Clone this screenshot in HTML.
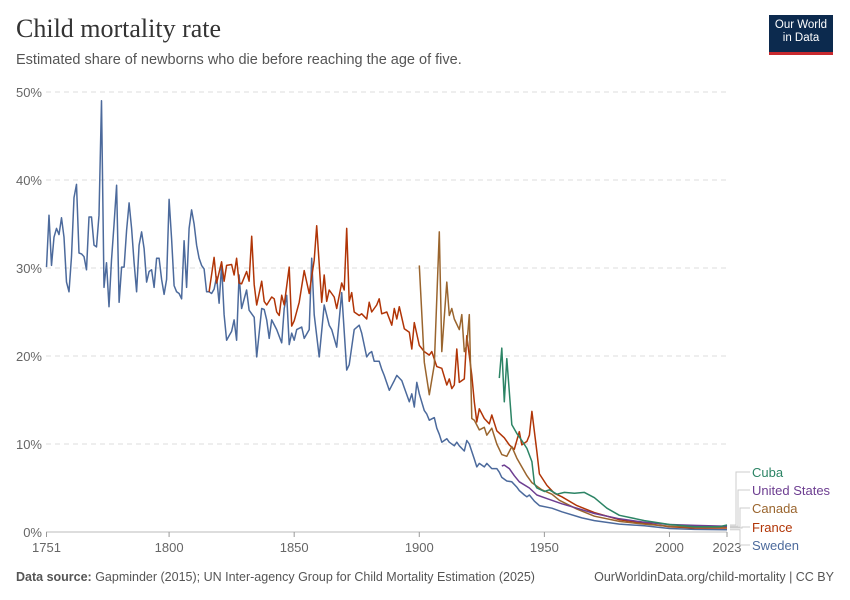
<!DOCTYPE html>
<html><head><meta charset="utf-8"><style>
body{margin:0;background:#fff;font-family:"Liberation Sans",sans-serif;}
#wrap{position:relative;width:850px;height:600px;overflow:hidden;}
</style></head><body>
<div id="wrap">
<div style="position:absolute;left:16px;top:14px;font-family:'Liberation Serif',serif;font-size:26px;color:#333;">Child mortality rate</div>
<div style="position:absolute;left:16px;top:52px;font-size:14.5px;color:#555;">Estimated share of newborns who die before reaching the age of five.</div>
<div style="position:absolute;left:769px;top:15px;width:64px;height:37px;background:#0c2a4e;border-bottom:3px solid #c8292e;color:#fff;font-size:11.5px;line-height:13px;text-align:center;padding-top:4px;box-sizing:content-box;height:33px;">Our World<br>in Data</div>
<svg id="chart" width="850" height="600" style="position:absolute;left:0;top:0"></svg>
<div style="position:absolute;left:16px;top:570px;font-size:12.5px;color:#555;"><b>Data source:</b> Gapminder (2015); UN Inter-agency Group for Child Mortality Estimation (2025)</div>
<div style="position:absolute;right:16px;top:570px;font-size:12.5px;color:#555;">OurWorldinData.org/child-mortality | CC BY</div>
</div>
<script>
const yTicks=[0,10,20,30,40,50];
const xTicks=[1751,1800,1850,1900,1950,2000,2023];
const sweden=[[1751,30.1],[1752,36],[1753,30.3],[1754,33.5],[1755,34.5],[1756,33.8],[1757,35.7],[1758,33.5],[1759,28.4],[1760,27.3],[1761,31.3],[1762,38],[1763,39.5],[1764,31.7],[1765,31.6],[1766,31.3],[1767,29.8],[1768,35.8],[1769,35.8],[1770,32.6],[1771,32.4],[1772,36],[1773,49],[1774,27.8],[1775,30.6],[1776,25.6],[1777,30.9],[1778,34.9],[1779,39.4],[1780,26.1],[1781,30.1],[1782,30.1],[1783,34.3],[1784,37.4],[1785,34.5],[1786,30.6],[1787,27.3],[1788,32.6],[1789,34.1],[1790,32.2],[1791,28.4],[1792,29.6],[1793,29.8],[1794,27.8],[1795,31.1],[1796,31.1],[1797,28.7],[1798,27],[1799,28.7],[1800,37.8],[1801,33.3],[1802,28],[1803,27.3],[1804,27.1],[1805,26.5],[1806,33.1],[1807,27.8],[1808,34.5],[1809,36.6],[1810,35],[1811,32.6],[1812,31.1],[1813,30.3],[1814,29.9],[1815,27.3],[1816,27.3],[1817,27.1],[1818,27.6],[1819,29],[1820,26],[1821,30.3],[1822,24.7],[1823,21.8],[1824,22.3],[1825,22.8],[1826,24.1],[1827,21.8],[1828,29.2],[1829,25.4],[1831,27.5],[1832,25.2],[1834,24.4],[1835,19.9],[1837,25.4],[1838,25.3],[1839,24.1],[1840,22],[1841,24.1],[1843,23],[1845,21.5],[1846,25.4],[1847,26.9],[1848,21.3],[1849,22.6],[1850,21.8],[1851,23],[1853,23.3],[1854,22],[1856,23],[1857,31.1],[1858,24.7],[1860,19.9],[1862,25.8],[1864,23.5],[1865,23],[1867,21],[1869,27.2],[1871,18.4],[1872,19],[1874,23],[1876,23.5],[1877,22.6],[1879,19.9],[1880,20.3],[1881,20.5],[1882,19.4],[1884,19.4],[1885,18.5],[1886,17.8],[1888,16.1],[1890,17.2],[1891,17.8],[1893,17.2],[1894,16.4],[1896,14.8],[1897,15.7],[1898,14.2],[1899,17],[1900,15.7],[1902,13.8],[1903,13.4],[1904,12.7],[1906,13],[1907,11.8],[1908,11.1],[1909,10.2],[1911,10.6],[1912,10.2],[1914,9.8],[1915,10.2],[1916,9.8],[1918,9.2],[1919,10.4],[1920,10],[1922,8.3],[1923,7.4],[1924,7.8],[1926,7.4],[1927,7.8],[1929,7.2],[1931,7.2],[1932,6.8],[1933,6.2],[1935,5.8],[1937,5.7],[1939,5.1],[1940,4.7],[1942,4.2],[1943,4],[1944,4.2],[1946,3.5],[1948,3],[1953,2.7],[1957,2.3],[1965,1.6],[1970,1.3],[1980,0.9],[1990,0.7],[2000,0.4],[2010,0.3],[2023,0.25]];
const france=[[1816,27.3],[1818,31.2],[1819,28.3],[1821,30.7],[1822,28.5],[1823,30.3],[1825,30.4],[1826,29.2],[1827,31.1],[1828,28.3],[1829,28.2],[1831,29.6],[1832,28.5],[1833,33.6],[1834,28.1],[1835,25.8],[1837,28.5],[1838,26.2],[1839,25.8],[1841,26.7],[1842,26.5],[1843,25],[1844,24.6],[1845,26.9],[1846,25.8],[1848,30.1],[1849,23.4],[1850,24],[1852,26.1],[1854,29.7],[1856,27.1],[1858,30.9],[1859,34.8],[1861,26.1],[1862,29.2],[1863,26.2],[1864,27.5],[1866,26.7],[1867,25.4],[1869,28.3],[1870,27.5],[1871,34.5],[1872,26.2],[1873,27.2],[1874,25],[1876,24.6],[1877,24.8],[1879,24.2],[1880,26.1],[1881,25],[1883,25.8],[1884,26.5],[1885,24.8],[1887,25],[1889,23.5],[1890,25.4],[1891,24.2],[1892,25.6],[1894,23.1],[1896,22.7],[1897,20.8],[1898,23.8],[1900,21.2],[1902,20.5],[1904,20.1],[1905,20.5],[1907,18.8],[1909,18.6],[1911,16.7],[1912,17.4],[1913,16.3],[1914,16.7],[1915,20.8],[1916,17],[1918,17.4],[1919,22.3],[1921,17.8],[1922,14.8],[1923,12.5],[1924,14],[1926,12.9],[1928,12.3],[1929,13.3],[1931,11.5],[1934,10.7],[1936,9.9],[1938,9.4],[1940,11.4],[1941,9.9],[1943,10.3],[1944,11],[1945,13.7],[1947,9.1],[1948,6.6],[1951,5.3],[1954,4.4],[1957,4],[1963,3],[1970,2.2],[1980,1.4],[1990,1],[2000,0.6],[2010,0.45],[2023,0.45]];
const canada=[[1900,30.3],[1902,19.3],[1904,15.6],[1906,19],[1908,34.1],[1909,20.5],[1911,28.4],[1912,24.6],[1913,25.4],[1914,24.2],[1916,23],[1917,24.7],[1918,20.5],[1919,21.2],[1920,24.7],[1921,12.9],[1922,12.7],[1924,11.6],[1926,11.9],[1927,11],[1929,11.8],[1931,10],[1933,8.8],[1935,8.6],[1937,9.7],[1939,8.4],[1941,7.4],[1943,6.4],[1945,5.6],[1949,4.8],[1953,4.3],[1956,3.6],[1963,2.6],[1970,1.8],[1980,1.2],[1990,0.9],[2000,0.65],[2010,0.55],[2023,0.55]];
const cuba=[[1932,17.5],[1933,20.9],[1934,14.8],[1935,19.7],[1937,12.2],[1939,11.2],[1941,10.4],[1943,9.5],[1945,8],[1946,5.5],[1947,5],[1950,4.6],[1952,4.8],[1955,4.3],[1958,4.5],[1962,4.4],[1966,4.5],[1970,3.9],[1975,2.7],[1980,1.9],[1990,1.3],[2000,0.85],[2010,0.6],[2020,0.6],[2023,0.8]];
const usa=[[1933,7.5],[1934,7.6],[1936,7.2],[1938,6.4],[1940,5.7],[1944,5],[1947,4.2],[1951,3.8],[1957,3.2],[1963,2.7],[1970,2.1],[1980,1.5],[1990,1.1],[2000,0.85],[2010,0.75],[2023,0.65]];
const seriesNames=["Cuba","United States","Canada","France","Sweden"];
const seriesData=[cuba,usa,canada,france,sweden];
const colors=["#2c8465","#6d3e91","#9a652e","#b13507","#4c6a9c"];
const NS="http://www.w3.org/2000/svg";
const svg=document.getElementById('chart');
const x=v=>46.5+(v-1751)*(727-46.5)/(2023-1751);
const y=v=>532-v*8.8;
function mk(t,a){const e=document.createElementNS(NS,t);for(const k in a)e.setAttribute(k,a[k]);svg.appendChild(e);return e;}
yTicks.forEach(t=>{
 const g=mk('line',{x1:46,x2:727,y1:y(t),y2:y(t),stroke:t===0?'#bbb':'#ddd','stroke-dasharray':t===0?'':'5,4'});
 
 
 const l=mk('text',{x:42,y:y(t)+5,'text-anchor':'end','font-size':13,fill:'#666'});
 l.textContent=t+'%';
 
 
});
xTicks.forEach(t=>{
 const k=mk('line',{x1:x(t),x2:x(t),y1:532,y2:537,stroke:'#999'});
 
 
 const l=mk('text',{x:x(t),y:552,'text-anchor':'middle','font-size':13,fill:'#666'});
 l.textContent=t;
 
 
});
seriesData.slice().reverse().forEach((d,ri)=>{
 const i=seriesData.length-1-ri;
 const p=mk('path',{d:d.map((q,j)=>(j?'L':'M')+x(q[0]).toFixed(1)+','+y(q[1]).toFixed(1)).join(''),fill:'none',stroke:colors[i],'stroke-width':1.5,'stroke-linejoin':'round'});
 
 
});
const labY=[472,490,508,527,545];
seriesNames.forEach((n,i)=>{
 const last=seriesData[i][seriesData[i].length-1];
 const cx=736+ (i===0?0:i===1?2:i===2?4:i===3?6:4);
 const c=mk('path',{d:`M730,${y(last[1])} H${cx} V${labY[i]} H750`,fill:'none',stroke:'#ccc','stroke-width':1});
 
 
 const t=mk('text',{x:752,y:labY[i]+5,'font-size':13,fill:colors[i]});
 t.textContent=n;
 
 
});
</script>
</body></html>
